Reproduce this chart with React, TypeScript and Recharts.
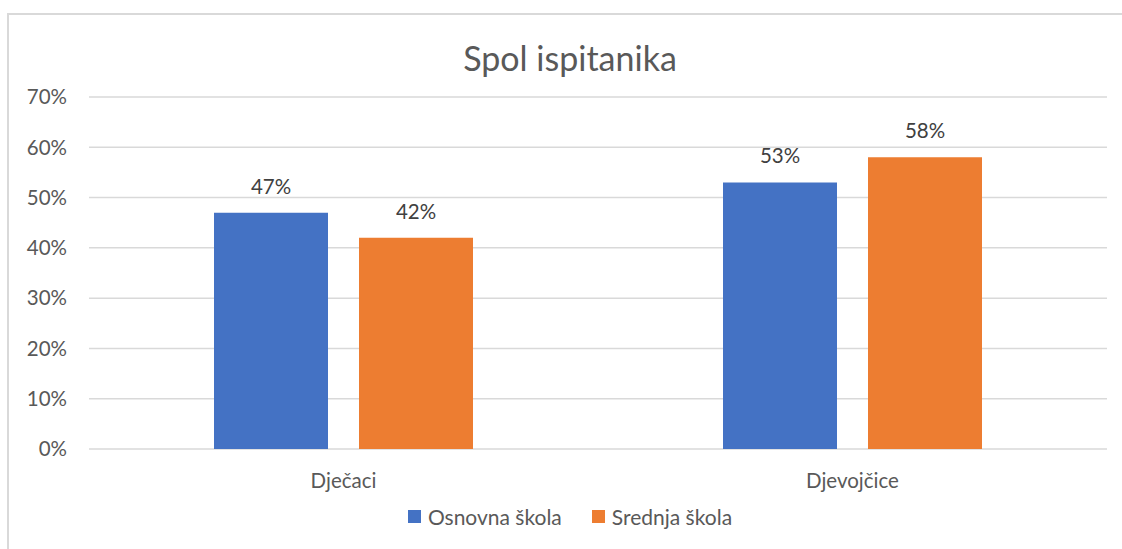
import { BarChart, Bar, XAxis, YAxis, CartesianGrid, LabelList } from "recharts";

const categories = ["Dječaci", "Djevojčice"];
const osnovna = [0.47, 0.53];
const srednja = [0.42, 0.58];
const yTicks = [0, 0.1, 0.2, 0.3, 0.4, 0.5, 0.6, 0.7];

const series = [
  { key: "osnovna", name: "Osnovna škola", color: "#4472c4" },
  { key: "srednja", name: "Srednja škola", color: "#ed7d31" },
];

const data = categories.map((c, i) => ({
  name: c,
  osnovna: osnovna[i],
  srednja: srednja[i],
}));

const font = "Lato, 'Open Sans', sans-serif";
const pct = (v: any) => `${Math.round(Number(v) * 100)}%`;

export default function App() {
  return (
    <div
      style={{
        position: "absolute",
        left: 0,
        top: 0,
        width: 1122,
        height: 549,
        overflow: "hidden",
        background: "#fff",
        fontFamily: font,
      }}
    >
      <div
        style={{
          position: "absolute",
          left: 7,
          top: 13,
          width: 1300,
          height: 700,
          borderLeft: "2px solid #d9d9d9",
          borderTop: "2px solid #d9d9d9",
        }}
      />
      <div
        style={{
          position: "absolute",
          left: 0,
          top: 37,
          width: 1140,
          textAlign: "center",
          fontSize: 34,
          color: "#595959",
          lineHeight: "42px",
        }}
      >
        Spol ispitanika
      </div>
      <div style={{ position: "absolute", left: 0, top: 0 }}>
        <BarChart
          width={1122}
          height={549}
          data={data}
          margin={{ top: 97, right: 15, left: 0, bottom: 55 }}
          barGap={31}
        >
          <CartesianGrid vertical={false} stroke="#d9d9d9" strokeWidth={1.5} />
          <XAxis
            dataKey="name"
            axisLine={false}
            tickLine={false}
            tickSize={0}
            tickMargin={24}
            height={45}
            tick={{ fill: "#595959", fontSize: 20.5, fontFamily: font }}
          />
          <YAxis
            width={89}
            domain={[0, 0.7]}
            ticks={yTicks}
            tickFormatter={pct}
            axisLine={false}
            tickLine={false}
            tickSize={0}
            tickMargin={22}
            tick={{ fill: "#595959", fontSize: 20.5, fontFamily: font }}
          />
          {series.map((s) => (
            <Bar
              key={s.key}
              dataKey={s.key}
              name={s.name}
              fill={s.color}
              barSize={114}
              isAnimationActive={false}
            >
              <LabelList
                dataKey={s.key}
                position="top"
                offset={19}
                formatter={pct}
                fill="#404040"
                fontSize={20.5}
                fontFamily={font}
              />
            </Bar>
          ))}
        </BarChart>
      </div>
      <div
        style={{
          position: "absolute",
          left: 0,
          top: 504,
          width: 1140,
          display: "flex",
          justifyContent: "center",
          gap: 30,
          fontSize: 21,
          color: "#595959",
        }}
      >
        {series.map((s) => (
          <div key={s.key} style={{ display: "flex", alignItems: "center", gap: 7 }}>
            <span style={{ width: 13, height: 13, background: s.color, display: "inline-block" }} />
            <span>{s.name}</span>
          </div>
        ))}
      </div>
    </div>
  );
}
